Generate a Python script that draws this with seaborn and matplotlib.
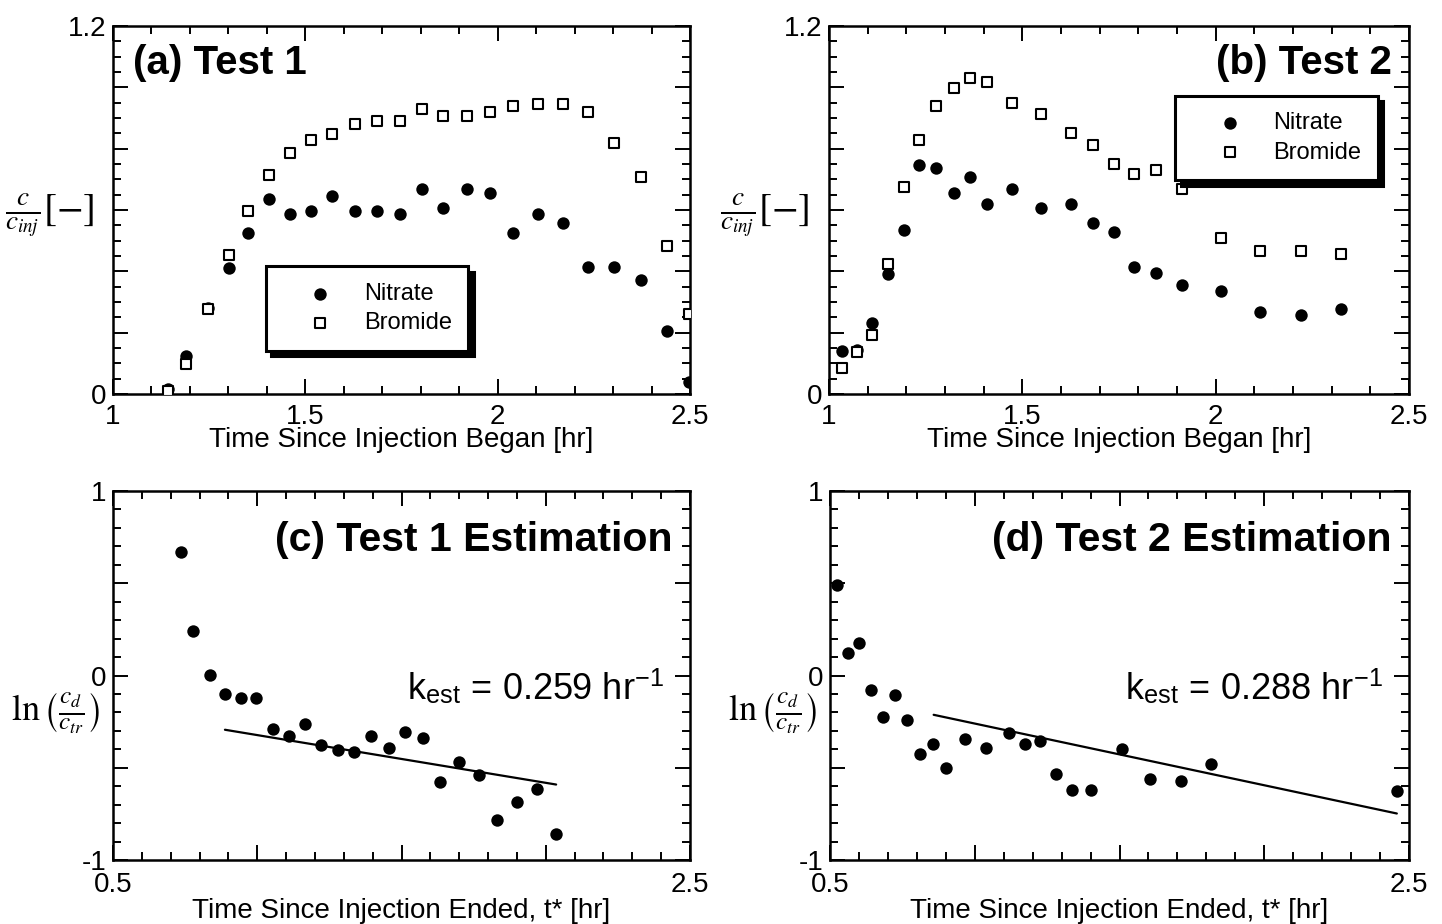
import numpy as np
import pandas as pd
import seaborn as sns
import matplotlib
matplotlib.use('Agg')
import matplotlib.pyplot as plt
from matplotlib.ticker import MultipleLocator

# Test 1 breakthrough (time since injection began, hr)
t1_time = [1.144, 1.190, 1.248, 1.302, 1.352, 1.406, 1.459, 1.514, 1.570, 1.628, 1.687, 1.746,
           1.803, 1.859, 1.919, 1.980, 2.041, 2.106, 2.170, 2.234, 2.303, 2.372, 2.439, 2.497]
t1_nitrate = [0.016, 0.124, 0.281, 0.411, 0.524, 0.636, 0.586, 0.596, 0.646, 0.596, 0.596, 0.586,
              0.667, 0.606, 0.667, 0.656, 0.524, 0.586, 0.557, 0.413, 0.413, 0.373, 0.205, 0.040]
t1_bromide = [0.011, 0.097, 0.276, 0.452, 0.596, 0.714, 0.786, 0.829, 0.849, 0.879, 0.890, 0.890,
              0.930, 0.908, 0.908, 0.919, 0.939, 0.946, 0.946, 0.919, 0.818, 0.708, 0.483, 0.262]

# Test 2 breakthrough
t2_time = [1.033, 1.072, 1.112, 1.153, 1.194, 1.234, 1.278, 1.323, 1.365, 1.408, 1.473, 1.549,
           1.627, 1.682, 1.736, 1.790, 1.845, 1.914, 2.015, 2.114, 2.220, 2.325]
t2_nitrate = [0.141, 0.145, 0.233, 0.391, 0.534, 0.747, 0.736, 0.657, 0.709, 0.618, 0.670, 0.607,
              0.618, 0.557, 0.527, 0.415, 0.396, 0.356, 0.337, 0.268, 0.257, 0.277]
t2_bromide = [0.085, 0.138, 0.193, 0.423, 0.675, 0.828, 0.939, 0.999, 1.029, 1.018, 0.949, 0.912,
              0.850, 0.811, 0.749, 0.719, 0.730, 0.670, 0.508, 0.467, 0.467, 0.456]

# Test 1 estimation (time since injection ended, hr)
e1_time = [0.734, 0.779, 0.836, 0.888, 0.944, 0.996, 1.055, 1.109, 1.166, 1.222, 1.281, 1.336,
           1.395, 1.455, 1.513, 1.574, 1.634, 1.699, 1.769, 1.831, 1.899, 1.968, 2.035]
e1_ln = [0.667, 0.243, 0.005, -0.101, -0.124, -0.123, -0.290, -0.330, -0.261, -0.378, -0.402, -0.414,
         -0.328, -0.393, -0.306, -0.339, -0.578, -0.470, -0.537, -0.782, -0.688, -0.614, -0.858]
e1_fit_t = [0.888, 2.036]
e1_fit_ln = [-0.294, -0.591]

# Test 2 estimation
e2_time = [0.523, 0.562, 0.601, 0.643, 0.683, 0.724, 0.765, 0.811, 0.855, 0.899, 0.965, 1.038,
           1.117, 1.173, 1.226, 1.280, 1.337, 1.402, 1.507, 1.606, 1.712, 1.817, 2.458]
e2_ln = [0.492, 0.123, 0.175, -0.077, -0.225, -0.105, -0.243, -0.423, -0.373, -0.499, -0.346, -0.391,
         -0.312, -0.369, -0.357, -0.532, -0.618, -0.618, -0.396, -0.559, -0.573, -0.477, -0.627]
e2_fit_t = [0.858, 2.458]
e2_fit_ln = [-0.213, -0.748]

sns.set_style('ticks')
plt.rcParams['font.family'] = ['Liberation Sans', 'DejaVu Sans']
plt.rcParams['mathtext.fontset'] = 'stix'
plt.rcParams['axes.linewidth'] = 1.6
for key in ['text.color', 'axes.labelcolor', 'axes.edgecolor', 'xtick.color', 'ytick.color']:
    plt.rcParams[key] = 'black'

fig = plt.figure(figsize=(14.42, 9.24), dpi=100)
W, H = 1442, 924

def add_ax(l, r, t, b):
    return fig.add_axes([l / W, 1 - b / H, (r - l) / W, (b - t) / H])

ax_a = add_ax(113, 690, 26, 394)
ax_b = add_ax(829, 1409, 26, 394)
ax_c = add_ax(113, 690, 491, 860)
ax_d = add_ax(830, 1409, 491, 860)

circ = dict(marker='o', color='black', s=80, linewidth=0)
sq = dict(marker='s', color='white', edgecolor='black', s=55, linewidth=1.5)

def style(ax, xpad=7):
    ax.tick_params(which='both', direction='in', top=True, right=True, labelsize=20,
                   width=1.4)
    ax.tick_params(axis='y', pad=5)
    ax.tick_params(axis='x', pad=xpad)
    ax.tick_params(which='major', length=11)
    ax.tick_params(which='minor', length=6)
    for s in ax.spines.values():
        s.set_linewidth(1.8)

def legend(ax, loc, anchor):
    lg = ax.legend(loc=loc, bbox_to_anchor=anchor, fontsize=17, frameon=True, fancybox=False,
                   edgecolor='black', framealpha=1, borderpad=0.7, handlelength=3.2,
                   handletextpad=0.25, labelspacing=0.3, borderaxespad=0,
                   shadow={'ox': 4, 'oy': -4, 'facecolor': 'black', 'edgecolor': 'black', 'alpha': 1})
    lg.get_frame().set_linewidth(2.2)

# top row
for ax, t, n, b in [(ax_a, t1_time, t1_nitrate, t1_bromide), (ax_b, t2_time, t2_nitrate, t2_bromide)]:
    sns.scatterplot(x=t, y=n, ax=ax, label='Nitrate', zorder=3, **circ)
    sns.scatterplot(x=t, y=b, ax=ax, label='Bromide', zorder=4, **sq)
    ax.set_xlim(1, 2.5)
    ax.set_ylim(0, 1.2)
    ax.set_xticks([1, 1.5, 2, 2.5], ['1', '1.5', '2', '2.5'])
    ax.set_yticks(np.arange(0, 1.21, 0.2), ['0', '', '', '', '', '', '1.2'])
    ax.xaxis.set_minor_locator(MultipleLocator(0.1))
    ax.yaxis.set_minor_locator(MultipleLocator(0.05))
    ax.set_xlabel('Time Since Injection Began [hr]', fontsize=20, labelpad=-2)
    ax.set_ylabel(r'$\frac{c}{c_{inj}}\left[-\right]$', fontsize=28, rotation=0)
    ax.yaxis.set_label_coords(-0.11, 0.42)
    style(ax)

ax_a.text(0.035, 0.95, '(a) Test 1', transform=ax_a.transAxes, fontsize=29,
          fontweight='bold', ha='left', va='top')
ax_b.text(0.97, 0.95, '(b) Test 2', transform=ax_b.transAxes, fontsize=29,
          fontweight='bold', ha='right', va='top')
legend(ax_a, 'lower left', (0.265, 0.118))
legend(ax_b, 'upper left', (0.597, 0.81))

# bottom row
for ax, t, v, ft, fv, title, k in [
        (ax_c, e1_time, e1_ln, e1_fit_t, e1_fit_ln, '(c) Test 1 Estimation', '0.259'),
        (ax_d, e2_time, e2_ln, e2_fit_t, e2_fit_ln, '(d) Test 2 Estimation', '0.288')]:
    sns.scatterplot(x=t, y=v, ax=ax, zorder=3, **circ)
    sns.lineplot(x=ft, y=fv, ax=ax, color='black', linewidth=1.6)
    ax.set_xlim(0.5, 2.5)
    ax.set_ylim(-1, 1)
    ax.set_xticks([0.5, 1, 1.5, 2, 2.5], ['0.5', '', '', '', '2.5'])
    ax.set_yticks([-1, -0.5, 0, 0.5, 1], ['-1', '', '0', '', '1'])
    ax.xaxis.set_minor_locator(MultipleLocator(0.1))
    ax.yaxis.set_minor_locator(MultipleLocator(0.1))
    ax.set_xlabel('Time Since Injection Ended, t* [hr]', fontsize=20, labelpad=0)
    ax.set_ylabel(r'$\ln\left(\frac{c_d}{c_{tr}}\right)$', fontsize=26, rotation=0)
    ax.yaxis.set_label_coords(-0.1, 0.34)
    ax.text(0.97, 0.92, title, transform=ax.transAxes, fontsize=29.5,
            fontweight='bold', ha='right', va='top')
    ax.text(0.955, 0.435, r'k$_{\mathregular{est}}$ = ' + k + r' hr$^{\mathregular{-1}}$',
            transform=ax.transAxes, fontsize=26, ha='right', va='baseline')
    style(ax, xpad=9)

fig.savefig('out.png', dpi=100)
